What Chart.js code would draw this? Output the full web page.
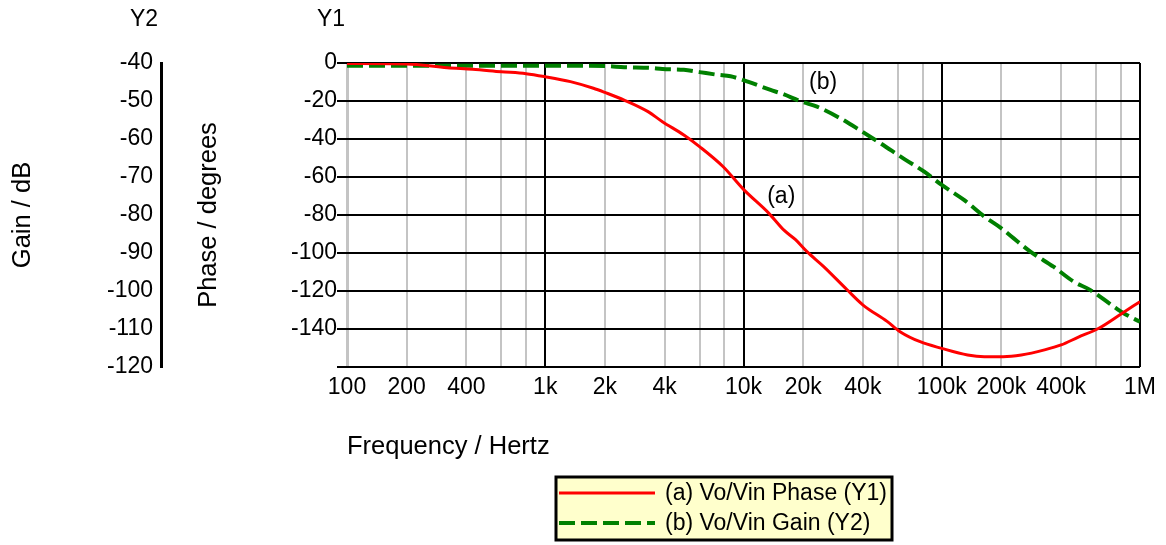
<!DOCTYPE html>
<html>
<head>
<meta charset="utf-8">
<script src="https://cdn.jsdelivr.net/npm/chart.js@4.4.0/dist/chart.umd.min.js"></script>
<style>
  html, body { margin: 0; padding: 0; background: #fff; }
</style>
</head>
<body>
<canvas id="bode" width="1166" height="545"></canvas>
<script>
// frequency response
var phaseFreq = [100, 200, 320, 430, 600, 800, 1000, 1340, 1750, 2000, 2500, 3300, 3900, 5000, 6000, 7900,
  10000, 13400, 16000, 18300, 20900, 25300, 33400, 40100, 53000, 61600, 77800, 100000, 135000, 164000,
  204000, 252000, 330000, 400000, 486000, 620000, 810000, 1000000];
var phaseDeg = [-0.3, -0.5, -2.5, -3.3, -4.6, -5.6, -7.2, -9.8, -13.3, -15.5, -19.5, -25.6, -30.9, -37.9, -44, -54.6,
  -66.5, -79, -88, -93, -99.3, -107, -119.5, -127.4, -136, -141.4, -146.7, -150.2, -153.7, -154.6,
  -154.6, -153.7, -151, -148.4, -144.4, -139.6, -131.8, -125.6];

var gainFreq = [100, 1000, 2000, 2500, 3400, 3900, 5000, 6000, 7400, 8600, 10000, 13700, 15500, 19700, 23500,
  30900, 39800, 49000, 64800, 81600, 100000, 130000, 164000, 200000, 230000, 281000, 366000, 465000, 560000,
  720000, 830000, 1000000];
var gainDb = [-40.7, -40.7, -40.8, -41.1, -41.3, -41.6, -41.8, -42.4, -43.1, -43.5, -44.5, -47.1, -48.0, -50.2, -51.5,
  -54.6, -58.1, -61.1, -65.3, -68.6, -72.1, -76.1, -80.4, -83.5, -86.1, -89.7, -93.6, -97.6, -99.7,
  -103.7, -105.9, -108.1];

// x grid / tick labels
var xGridValues = [100, 200, 400, 600, 800, 1000, 2000, 4000, 6000, 8000, 10000, 20000, 40000, 60000, 80000,
  100000, 200000, 400000, 600000, 800000, 1000000];
var xTickValues = [100, 200, 400, 1000, 2000, 4000, 10000, 20000, 40000, 100000, 200000, 400000, 1000000];
var xTickLabels = ['100', '200', '400', '1k', '2k', '4k', '10k', '20k', '40k', '100k', '200k', '400k', '1M'];

// curve markers
var markA = { text: '(a)', x: 15500, y: -70.5 };
var markB = { text: '(b)', x: 25200, y: -10.5 };

var FONT = '"Liberation Sans", Arial, sans-serif';
Chart.defaults.font.family = FONT;
Chart.defaults.color = '#000';

function isDecade(v) {
  var l = Math.log10(v);
  return Math.abs(l - Math.round(l)) < 1e-6;
}

var extras = {
  id: 'extras',
  afterDraw: function(chart) {
    var c = chart.ctx;
    var x = chart.scales.x, y = chart.scales.y;
    c.save();
    c.fillStyle = '#000';
    c.font = '23px ' + FONT;
    c.textAlign = 'center';
    c.textBaseline = 'middle';
    c.fillText('Y2', 144, 20);
    c.fillText('Y1', 331, 20);
    [markA, markB].forEach(function(m) {
      c.fillText(m.text, x.getPixelForValue(m.x), y.getPixelForValue(m.y));
    });

    // legend box
    var bx = 556, by = 477, bw = 336, bh = 63;
    c.fillStyle = '#ffffcc';
    c.fillRect(bx, by, bw, bh);
    c.lineWidth = 3;
    c.strokeStyle = '#000';
    c.strokeRect(bx, by, bw, bh);
    c.textAlign = 'left';
    chart.data.datasets.forEach(function(ds, i) {
      var ly = by + 16 + i * 30;
      c.beginPath();
      c.setLineDash(ds.borderDash || []);
      c.strokeStyle = ds.borderColor;
      c.lineWidth = ds.borderWidth;
      c.moveTo(bx + 3, ly);
      c.lineTo(bx + 99, ly);
      c.stroke();
      c.setLineDash([]);
      c.fillStyle = '#000';
      c.fillText(ds.label, bx + 109, ly + 1);
    });
    c.restore();
  }
};

new Chart(document.getElementById('bode'), {
  type: 'line',
  data: {
    datasets: [{
      label: '(a) Vo/Vin Phase (Y1)',
      data: phaseFreq.map(function(f, i) { return { x: f, y: phaseDeg[i] }; }),
      borderColor: '#ff0000',
      borderWidth: 3,
      pointRadius: 0,
      cubicInterpolationMode: 'monotone',
      fill: false,
      yAxisID: 'y'
    }, {
      label: '(b) Vo/Vin Gain (Y2)',
      data: gainFreq.map(function(f, i) { return { x: f, y: gainDb[i] }; }),
      borderColor: '#008000',
      borderWidth: 4,
      borderDash: [16, 6],
      pointRadius: 0,
      cubicInterpolationMode: 'monotone',
      fill: false,
      yAxisID: 'y2'
    }]
  },
  options: {
    responsive: false,
    animation: false,
    layout: { padding: { left: 0, right: 26, top: 63, bottom: 78 } },
    plugins: { legend: { display: false }, tooltip: { enabled: false } },
    scales: {
      x: {
        type: 'logarithmic',
        position: 'bottom',
        min: 100,
        max: 1000000,
        afterBuildTicks: function(s) { s.ticks = xGridValues.map(function(v) { return { value: v }; }); },
        afterFit: function(s) { s.height = 100; },
        ticks: {
          autoSkip: false, maxRotation: 0, padding: 7,
          font: { size: 23 },
          callback: function(v) {
            var i = xTickValues.indexOf(v);
            return i < 0 ? '' : xTickLabels[i];
          }
        },
        grid: {
          drawTicks: false,
          color: function(ctx) {
            var v = ctx.tick && ctx.tick.value;
            return (v !== 100 && isDecade(v)) ? '#000' : '#c4c4c4';
          },
          lineWidth: function(ctx) { return ctx.tick && ctx.tick.value === 100 ? 3 : 2; }
        },
        border: { display: false },
        title: { display: true, text: 'Frequency / Hertz', align: 'start', font: { size: 25.5 }, padding: { top: 0, bottom: 5 } }
      },
      y: {
        position: 'left',
        weight: 0,
        min: -160,
        max: 0,
        afterFit: function(s) { s.width = 186; },
        ticks: {
          stepSize: 20, padding: 0, font: { size: 23 },
          callback: function(v) { return v === -160 ? '' : String(v); }
        },
        grid: { color: '#000', lineWidth: 2, tickLength: 10 },
        border: { display: false },
        title: { display: true, text: 'Phase / degrees', font: { size: 25.5 }, padding: { top: 33 } }
      },
      y2: {
        position: 'left',
        weight: 1,
        min: -120,
        max: -40,
        afterFit: function(s) { s.width = 161; },
        ticks: { stepSize: 10, padding: 8, font: { size: 23 }, callback: function(v) { return String(v); } },
        grid: { display: false, drawTicks: false },
        border: { display: true, color: '#000', width: 3 },
        title: { display: true, text: 'Gain / dB', font: { size: 25.5 }, padding: { top: 8 } }
      }
    }
  },
  plugins: [extras]
});
</script>
</body>
</html>
